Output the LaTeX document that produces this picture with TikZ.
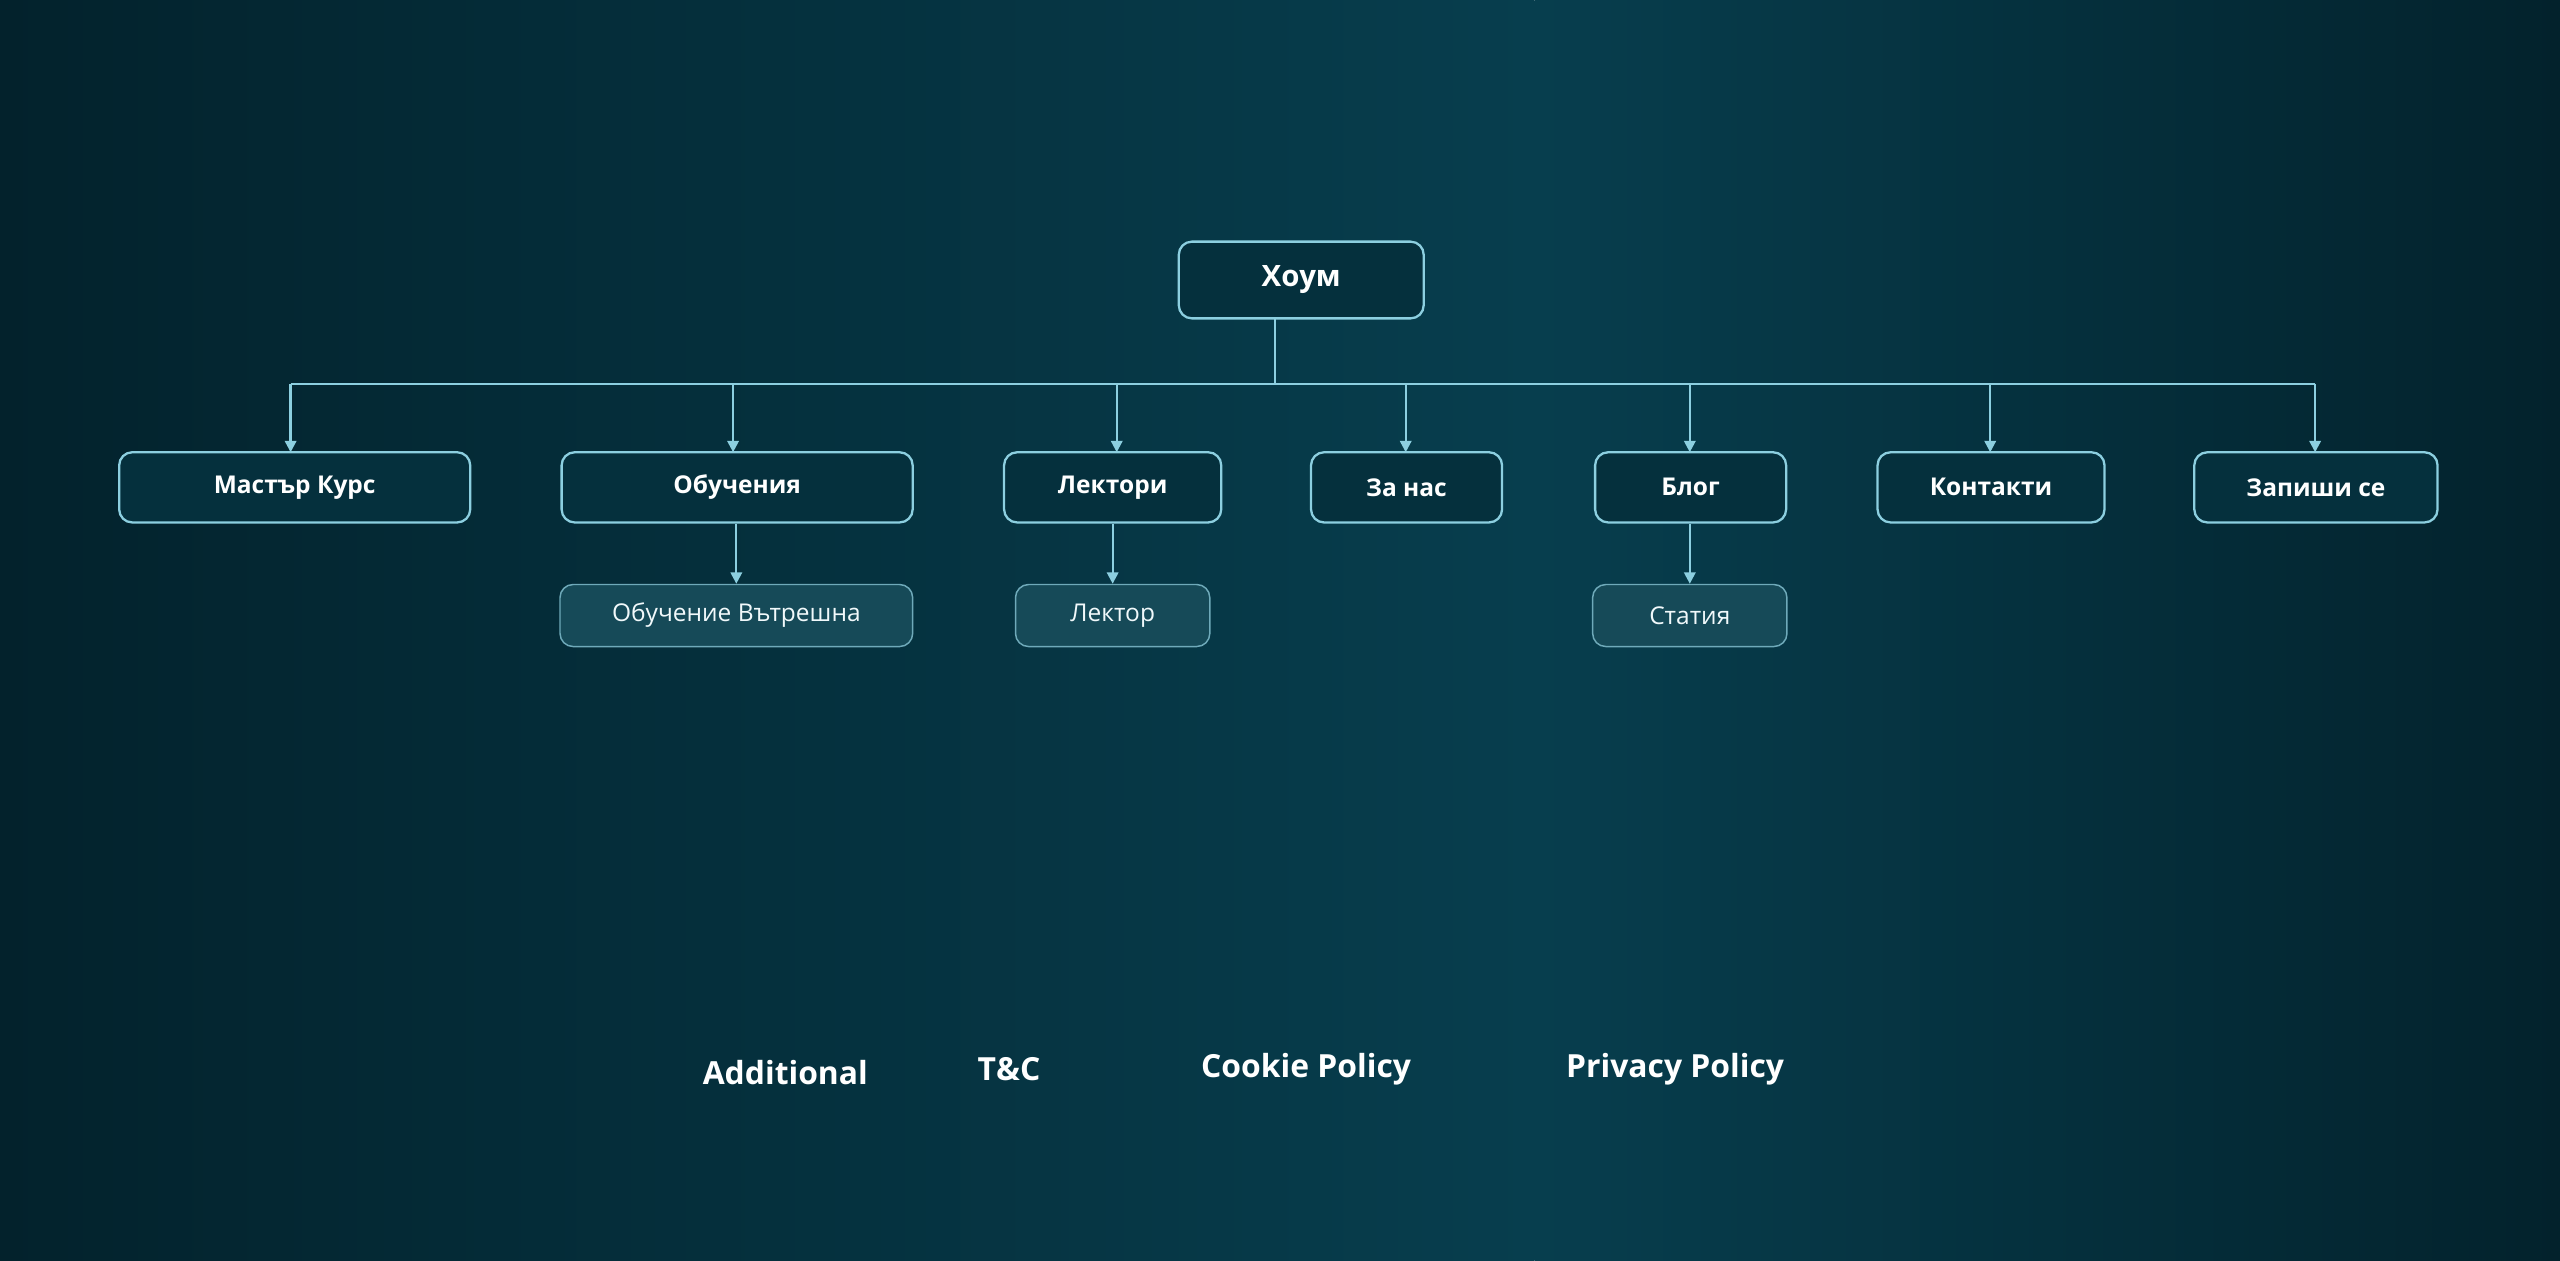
\documentclass[tikz,border=0pt]{standalone}
\usepackage{fontspec}
\setmainfont{Open Sans}
\usetikzlibrary{arrows.meta}
\definecolor{bgdark}{HTML}{03222C}
\definecolor{bgmid}{HTML}{073E4E}
\definecolor{strk}{HTML}{8CCFE0}
\definecolor{boxf}{HTML}{05303D}
\definecolor{subf}{HTML}{164A58}
\definecolor{subs}{HTML}{6FAABA}
\tikzset{
 x=1pt,y=-1pt,
 mainbox/.style={draw=strk,line width=1.4pt,fill=boxf,rounded corners=8pt,text=white,font=\bfseries\fontsize{15}{17}\selectfont,inner sep=0pt},
 subbox/.style={draw=subs,line width=0.9pt,fill=subf,rounded corners=8pt,text=white!88!strk,font=\fontsize{15}{17}\selectfont,inner sep=0pt},
 conn/.style={draw=strk,line width=1.4pt},
 arr/.style={conn,-{Triangle[length=7pt,width=7pt]}},
 foot/.style={text=white,font=\bfseries\fontsize{19.5}{22}\selectfont}
}
\begin{document}
\begin{tikzpicture}
\shade[left color=bgdark,right color=bgmid] (0,0) rectangle (940,772);
\shade[left color=bgmid,right color=bgdark] (940,0) rectangle (1568,772);
\useasboundingbox (0,0) rectangle (1568,772);
\node[mainbox,minimum width=150pt,minimum height=47pt,font=\bfseries\fontsize{18}{20}\selectfont] (home) at (797,171.5) {Хоум};
\coordinate (hs) at (781,195);
\coordinate (bus) at (781,235);
\foreach \n/\t/\c/\w/\a in {m1/Мастър Курс/180.5/215/178, m2/Обучения/451.5/215/449, m3/Лектори/681.5/133/684, m4/За нас/861.5/117/861, m5/Блог/1035.5/117/1035, m6/Контакти/1219.5/139/1219, m7/Запиши се/1418.5/149/1418}{
 \node[mainbox,minimum width=\w pt,minimum height=43pt] (\n) at (\c,298.5) {\t};
 \coordinate (\n t) at (\a,235);
 \draw[arr] (\n t) -- (\a,277);
}
\draw[conn] (hs) -- (bus);
\draw[conn] (m1t) -- (m7t);
\node[subbox,minimum width=216pt,minimum height=38pt] (s1) at (451,377) {Обучение Вътрешна};
\node[subbox,minimum width=119pt,minimum height=38pt] (s2) at (681.5,377) {Лектор};
\node[subbox,minimum width=119pt,minimum height=38pt] (s3) at (1035,377) {Статия};
\draw[arr] (s1.north |- m2.south) -- (s1.north);
\draw[arr] (s2.north |- m3.south) -- (s2.north);
\draw[arr] (s3.north |- m5.south) -- (s3.north);
\node[foot] (f1) at (481,657) {Additional};
\node[foot] (f2) at (618,655) {T\&C};
\node[foot] (f3) at (800,655) {Cookie Policy};
\node[foot] (f4) at (1026,655) {Privacy Policy};
\end{tikzpicture}
\end{document}
